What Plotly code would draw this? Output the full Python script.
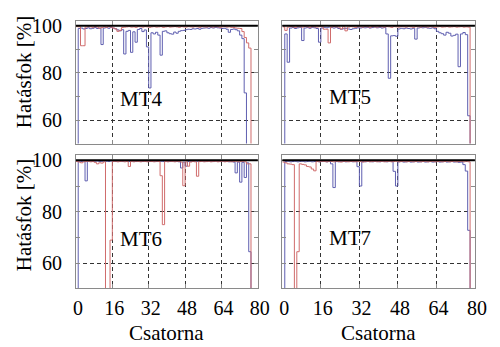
import plotly.graph_objects as go

channels = list(range(80))
x_ticks = [0, 16, 32, 48, 64, 80]
y_ticks = [60, 80, 100]
panel_names = ["MT4", "MT5", "MT6", "MT7"]

mt4_blue = [0, 98.8, 99.0, 98.6, 98.8, 99.1, 98.7, 98.9, 99.2, 98.8,
            99.0, 92.0, 99.0, 99.2, 98.9, 99.3, 99.0, 98.7, 98.2, 97.8,
            98.3, 88.0, 97.6, 98.0, 88.7, 97.4, 93.0, 98.4, 98.8, 97.5,
            98.2, 91.0, 73.6, 97.0, 96.5, 97.2, 96.0, 87.5, 97.6, 97.8,
            97.0, 96.6, 96.4, 97.3, 96.8, 97.6, 97.9, 98.0, 98.3, 98.5,
            98.4, 98.7, 98.6, 98.8, 98.5, 98.9, 99.0, 99.1, 98.9, 99.2,
            99.0, 99.3, 99.1, 99.0, 98.8, 98.9, 98.5, 97.2, 98.4, 98.6,
            98.3, 97.8, 96.0, 94.5, 71.5, 0, 0, 0, 0, 0]
mt4_red = [99.6, 99.5, 91.5, 91.5, 99.4, 99.6, 99.5, 99.3, 99.6, 99.4,
           98.9, 99.2, 99.5, 99.3, 99.6, 99.4, 99.0, 98.6, 97.6, 98.0,
           99.2, 99.4, 99.5, 99.6, 99.4, 99.5, 99.3, 99.6, 99.5, 99.4,
           99.6, 99.5, 99.3, 99.5, 99.6, 99.4, 99.5, 99.6, 99.3, 99.5,
           99.6, 99.4, 99.5, 99.6, 99.5, 99.3, 99.6, 99.5, 99.4, 99.6,
           99.5, 99.4, 99.6, 99.5, 99.3, 99.6, 99.5, 99.4, 99.6, 99.5,
           99.4, 99.6, 99.5, 99.3, 99.5, 99.6, 99.4, 99.5, 99.3, 99.2,
           99.0, 98.9, 98.8, 97.5, 95.0, 92.7, 90.5, 0, 0, 0]

mt5_blue = [0, 96.5, 84.5, 99.0, 99.2, 98.8, 99.1, 99.3, 93.7, 99.0,
            99.2, 98.9, 99.3, 99.1, 98.8, 93.0, 99.0, 99.3, 99.1, 99.4,
            99.2, 99.0, 99.3, 98.8, 98.5, 98.7, 98.9, 98.6, 98.4, 98.7,
            98.9, 99.1, 99.0, 99.2, 99.1, 99.3, 99.0, 99.2, 99.4, 99.1,
            99.3, 99.0, 99.2, 96.5, 77.7, 95.7, 95.8, 95.5, 98.6, 98.9,
            98.7, 99.0, 98.8, 98.6, 98.9, 94.3, 99.0, 99.2, 99.1, 99.3,
            99.0, 98.9, 99.1, 98.7, 97.6, 97.0, 96.6, 96.0, 97.2, 96.8,
            95.6, 95.9, 96.4, 82.6, 96.5, 97.1, 96.2, 61.8, 0, 0]
mt5_red = [99.5, 98.0, 99.4, 99.6, 99.5, 99.3, 99.6, 99.5, 99.4, 99.6,
           99.5, 99.3, 99.6, 99.5, 99.4, 99.6, 99.5, 98.5, 98.5, 92.7,
           99.4, 99.6, 99.5, 99.4, 98.6, 99.5, 97.8, 99.4, 99.6, 99.5,
           99.3, 99.6, 99.5, 99.4, 99.6, 99.5, 99.3, 99.6, 99.5, 99.4,
           99.6, 99.5, 99.4, 99.6, 99.5, 99.3, 99.6, 99.5, 99.4, 99.6,
           99.5, 99.4, 99.6, 99.5, 99.3, 99.6, 99.5, 99.4, 99.6, 99.5,
           99.4, 99.6, 99.5, 99.3, 99.5, 99.6, 99.4, 99.5, 99.6, 99.4,
           99.5, 99.6, 99.4, 99.5, 99.6, 99.4, 99.5, 99.4, 0, 0]

mt6_blue = [0, 99.6, 99.5, 99.7, 92.0, 99.6, 99.7, 99.5, 99.6, 99.7,
            99.5, 99.6, 99.7, 99.6, 99.5, 99.7, 99.6, 99.5, 99.7, 99.6,
            99.5, 99.7, 99.6, 99.5, 99.7, 99.6, 99.5, 99.7, 99.6, 99.5,
            99.7, 99.6, 99.5, 99.7, 99.6, 99.5, 99.7, 99.6, 99.5, 99.7,
            99.6, 99.5, 99.7, 99.6, 99.5, 99.4, 97.0, 99.3, 97.7, 99.5,
            99.6, 99.5, 99.7, 99.6, 99.5, 99.7, 99.6, 99.5, 99.7, 99.6,
            99.5, 99.7, 99.6, 99.5, 99.7, 99.6, 99.5, 99.4, 99.5, 99.3,
            95.1, 99.3, 91.5, 99.2, 93.3, 99.0, 64.5, 0, 0, 0]
mt6_red = [99.5, 99.3, 99.0, 99.4, 99.5, 99.6, 99.4, 99.5, 99.2, 98.6,
           99.0, 98.9, 99.4, 0, 0, 69.0, 99.5, 99.6, 99.4, 99.5,
           99.6, 99.4, 99.5, 97.6, 99.5, 99.4, 99.6, 99.5, 99.4, 99.6,
           99.5, 99.4, 99.6, 99.5, 99.4, 99.6, 99.5, 94.0, 75.0, 99.5,
           99.4, 99.6, 99.5, 99.4, 99.6, 99.5, 99.3, 90.1, 99.4, 97.7,
           99.3, 99.5, 99.4, 93.8, 99.5, 99.6, 99.4, 99.5, 99.6, 99.4,
           99.5, 99.6, 99.4, 99.5, 99.6, 99.4, 99.5, 99.6, 99.4, 99.5,
           99.6, 99.4, 99.5, 99.6, 99.4, 98.6, 98.6, 0, 0, 0]

mt7_blue = [0, 99.5, 99.6, 99.4, 99.5, 99.6, 99.4, 99.5, 99.6, 99.4,
            99.5, 99.6, 99.4, 99.5, 99.6, 99.4, 99.5, 99.6, 99.4, 99.5,
            98.6, 89.4, 99.5, 99.4, 99.6, 99.5, 99.4, 99.6, 99.5, 99.4,
            99.6, 97.5, 90.0, 99.5, 99.4, 99.6, 99.5, 99.4, 99.6, 99.5,
            99.4, 99.6, 99.5, 99.4, 99.6, 99.5, 95.7, 90.0, 99.4, 99.5,
            99.3, 99.4, 99.5, 99.3, 99.4, 99.5, 99.3, 99.4, 99.5, 99.3,
            99.4, 99.5, 99.3, 99.4, 99.5, 99.3, 99.4, 99.5, 99.3, 99.4,
            99.5, 99.3, 99.4, 99.2, 99.3, 98.3, 95.8, 72.8, 0, 0]
mt7_red = [99.3, 99.0, 98.6, 98.5, 98.3, 0, 64.5, 98.6, 98.4, 98.2,
           97.6, 97.4, 96.6, 95.9, 99.5, 99.4, 99.6, 99.5, 99.4, 99.6,
           99.5, 99.4, 99.6, 99.5, 99.3, 99.6, 99.5, 99.4, 99.6, 99.5,
           99.4, 99.6, 99.5, 99.3, 99.5, 99.6, 99.4, 99.5, 99.6, 99.4,
           99.5, 99.6, 99.4, 99.5, 99.6, 99.4, 99.5, 99.6, 99.4, 99.5,
           99.6, 99.4, 99.5, 99.6, 99.4, 99.5, 99.6, 99.4, 99.5, 99.6,
           99.4, 99.5, 99.6, 99.4, 99.5, 99.6, 99.4, 99.5, 99.6, 99.4,
           99.5, 99.6, 99.4, 99.5, 99.6, 99.4, 99.5, 99.4, 0, 0]

blue_series = [mt4_blue, mt5_blue, mt6_blue, mt7_blue]
red_series = [mt4_red, mt5_red, mt6_red, mt7_red]

BLUE = "#5f5fb0"
RED = "#d06c6c"
FONT = "Liberation Serif"
FRAME = "#8a8a8a"

fig = go.Figure()
axis_ids = ["", "2", "3", "4"]
for i, sfx in enumerate(axis_ids):
    xs = channels + [channels[-1] + 1]
    for vals, col in ((blue_series[i], BLUE), (red_series[i], RED)):
        fig.add_trace(go.Scatter(
            x=xs, y=vals + [vals[-1]], mode="lines",
            line=dict(color=col, width=1, shape="hv"),
            xaxis="x" + sfx, yaxis="y" + sfx, showlegend=False,
            hoverinfo="skip"))

x_doms = [[0.1504, 0.5254], [0.576, 0.973], [0.1504, 0.5254], [0.576, 0.973]]
y_doms = [[0.5965, 0.9568], [0.5965, 0.9568], [0.1729, 0.5620], [0.1729, 0.5620]]
y_ranges = [[50, 102.1], [50, 102.1], [50.4, 101.9], [50.4, 101.9]]

layout = dict(
    width=500, height=347, margin=dict(l=0, r=0, t=0, b=0),
    paper_bgcolor="white", plot_bgcolor="white",
    font=dict(family=FONT, size=20, color="black"),
    shapes=[], annotations=[], hovermode=False,
)
for i, sfx in enumerate(axis_ids):
    bottom_row = i >= 2
    left_col = i % 2 == 0
    layout["xaxis" + sfx] = dict(
        domain=x_doms[i], range=[0, 80], anchor="y" + sfx,
        tickvals=x_ticks, ticktext=[str(v) for v in x_ticks],
        showticklabels=bottom_row, ticks="inside", ticklen=4,
        tickcolor=FRAME, showline=True, linecolor=FRAME, linewidth=1,
        mirror="ticks", showgrid=True, gridcolor="#333", gridwidth=1,
        griddash="4px,3px", zeroline=False, ticklabelstandoff=2,
        ticklabelshift=2, tickfont=dict(family=FONT, size=20))
    layout["yaxis" + sfx] = dict(
        domain=y_doms[i], range=y_ranges[i], anchor="x" + sfx,
        tickvals=y_ticks, ticktext=[str(v) for v in y_ticks],
        showticklabels=left_col, ticks="inside", ticklen=4,
        tickcolor=FRAME, showline=True, linecolor=FRAME, linewidth=1,
        mirror="ticks", showgrid=True, gridcolor="#333", gridwidth=1,
        griddash="4px,3px", zeroline=False, ticklabelstandoff=9,
        minor=dict(tick0=50, dtick=10, ticks="inside", ticklen=4,
                   tickcolor=FRAME, showgrid=False),
        tickfont=dict(family=FONT, size=20))
    layout["shapes"].append(dict(
        type="line", xref="x" + sfx + " domain", yref="y" + sfx,
        x0=0, x1=1, y0=100, y1=100, line=dict(color="black", width=2),
        layer="above"))

mt_pos = [(28.7, 68.8), (28.0, 69.8), (28.7, 69.6), (28.0, 69.9)]
for i, sfx in enumerate(axis_ids):
    layout["annotations"].append(dict(
        text=panel_names[i], x=mt_pos[i][0], y=mt_pos[i][1],
        xref="x" + sfx, yref="y" + sfx, showarrow=False,
        font=dict(family=FONT, size=21, color="black")))

for yc in (0.8084, 0.389):
    layout["annotations"].append(dict(
        text="Hatásfok [%]", x=0.043, y=yc, xref="paper", yref="paper",
        textangle=-90, showarrow=False, xanchor="center", yanchor="middle",
        font=dict(family=FONT, size=21, color="black")))
for xc in (169 / 500, 387 / 500):
    layout["annotations"].append(dict(
        text="Csatorna", x=xc, y=0.0, xref="paper", yref="paper",
        showarrow=False, xanchor="center", yanchor="bottom",
        font=dict(family=FONT, size=21, color="black")))

fig.update_layout(**layout)
fig.write_html("out.html",
               config={"displayModeBar": False, "staticPlot": True},
               post_script="document.body.style.margin='0';")
